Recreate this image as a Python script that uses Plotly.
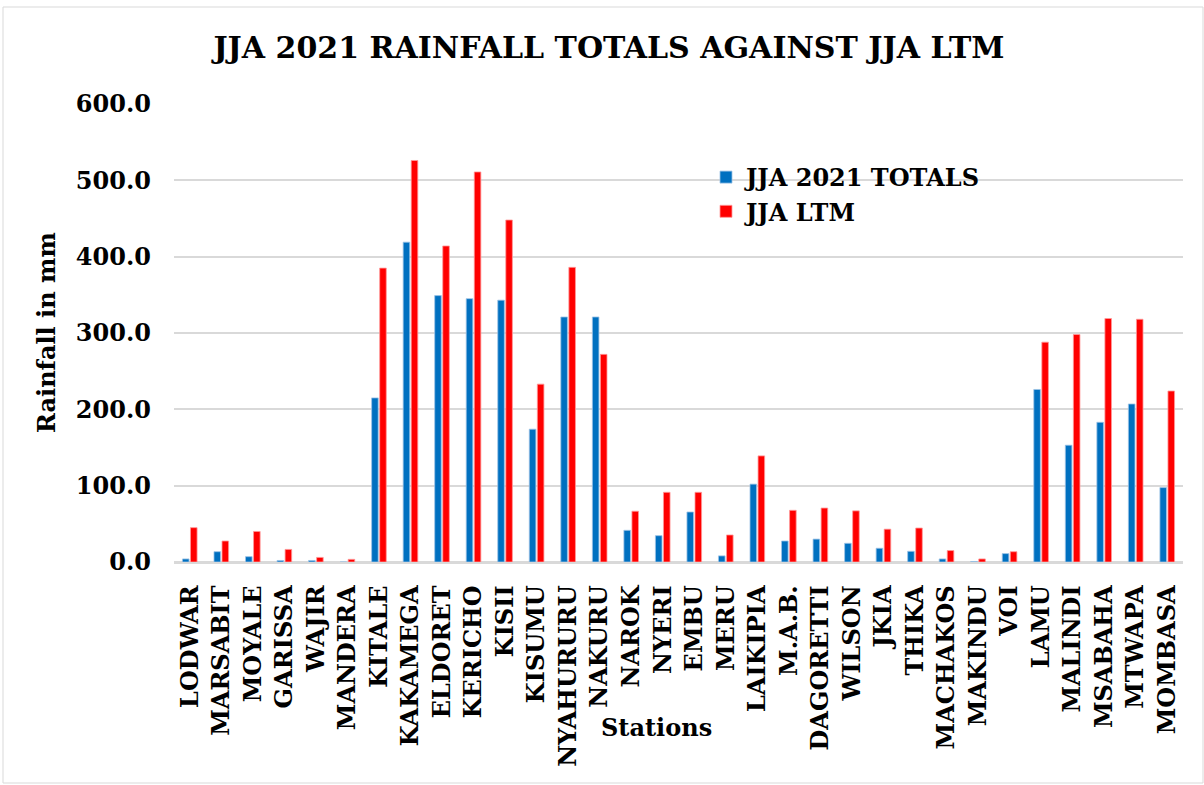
import plotly.graph_objects as go

stations = ["LODWAR", "MARSABIT", "MOYALE", "GARISSA", "WAJIR", "MANDERA", "KITALE",
            "KAKAMEGA", "ELDORET", "KERICHO", "KISII", "KISUMU", "NYAHURURU", "NAKURU",
            "NAROK", "NYERI", "EMBU", "MERU", "LAIKIPIA", "M.A.B.", "DAGORETTI", "WILSON",
            "JKIA", "THIKA", "MACHAKOS", "MAKINDU", "VOI", "LAMU", "MALINDI", "MSABAHA",
            "MTWAPA", "MOMBASA"]

totals_2021 = [4.0, 13.5, 7.0, 2.0, 2.0, 0.0, 215.0,
               419.0, 349.0, 345.0, 343.0, 174.0, 321.0, 321.0,
               41.5, 34.5, 65.5, 8.0, 102.0, 27.5, 30.0, 24.5,
               18.0, 14.0, 4.0, 0.5, 11.0, 226.0, 153.0, 183.0,
               207.0, 97.5]
ltm = [45.0, 27.5, 40.0, 16.5, 6.0, 3.5, 385.0,
       526.0, 414.0, 511.0, 448.0, 233.0, 386.0, 272.0,
       66.5, 91.3, 91.3, 35.4, 139.0, 67.7, 70.7, 67.0,
       43.0, 44.5, 15.0, 4.0, 13.5, 288.0, 298.0, 319.0,
       318.0, 224.0]

FONT = "DejaVu Serif"

fig = go.Figure()
fig.add_trace(go.Bar(x=stations, y=totals_2021, name="JJA 2021 TOTALS",
                     marker=dict(color="#0070C0", line=dict(color="#9DC3E6", width=0.8))))
fig.add_trace(go.Bar(x=stations, y=ltm, name="JJA LTM",
                     marker=dict(color="#FF0000", line=dict(color="#FF9999", width=0.8))))

L, R, T, B = 174, 21, 104, 223
W, H = 1204, 785
pw = W - L - R
ph = H - T - B

fig.update_layout(
    width=W, height=H,
    margin=dict(l=L, r=R, t=T, b=B, autoexpand=False),
    paper_bgcolor="white", plot_bgcolor="white",
    barmode="group", bargap=0.49, bargroupgap=0.18,
    title=dict(text="JJA 2021 RAINFALL TOTALS AGAINST JJA LTM", x=609 / W, xanchor="center",
               y=1 - 47 / H, yanchor="middle", yref="container",
               font=dict(family=FONT, size=30, color="black", weight="bold")),
    legend=dict(x=(706 - L) / pw, y=(562 - 155) / ph, xanchor="left", yanchor="top",
                bgcolor="rgba(0,0,0,0)", font=dict(family=FONT, size=24, color="black", weight="bold"),
                tracegroupgap=0, itemwidth=30),
    showlegend=True,
    xaxis=dict(tickangle=-90, tickmode="linear", dtick=1, automargin=False,
               tickfont=dict(family=FONT, size=24, color="black", weight="bold"),
               showgrid=False, showline=True, linecolor="#D9D9D9", linewidth=1.5,
               ticks="", ticklabelstandoff=12),
    yaxis=dict(range=[0, 600], dtick=100, tickformat=".1f", automargin=False,
               tickfont=dict(family=FONT, size=24, color="black", weight="bold"),
               showgrid=True, gridcolor="#D9D9D9", gridwidth=1.5, zeroline=True,
               zerolinecolor="#D9D9D9", zerolinewidth=1.5, showline=False, ticks="",
               ticklabelstandoff=22),
    annotations=[
        dict(text="Stations", xref="paper", yref="paper", x=(656 - L) / pw, y=(562 - 727) / ph,
             showarrow=False, xanchor="center", yanchor="middle",
             font=dict(family=FONT, size=24, color="black", weight="bold")),
        dict(text="Rainfall in mm", xref="paper", yref="paper", x=(46 - L) / pw, y=(562 - 333) / ph,
             showarrow=False, xanchor="center", yanchor="middle", textangle=-90,
             font=dict(family=FONT, size=24, color="black", weight="bold")),
    ],
    shapes=[dict(type="rect", xref="paper", yref="paper",
                 x0=(3 - L) / pw, x1=(1203 - L) / pw, y0=(562 - 783) / ph, y1=(562 - 7) / ph,
                 line=dict(color="#D9D9D9", width=1), fillcolor="rgba(0,0,0,0)", layer="below")],
)

fig.write_html("out.html")
